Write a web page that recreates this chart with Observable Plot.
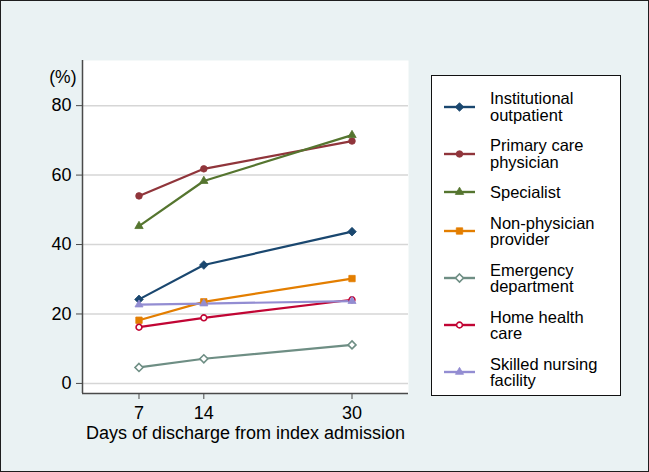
<!DOCTYPE html>
<html>
<head>
<meta charset="utf-8">
<script src="https://cdn.jsdelivr.net/npm/d3@7"></script>
<script src="https://cdn.jsdelivr.net/npm/@observablehq/plot@0.6"></script>
<style>
  html, body { margin: 0; padding: 0; background: #eaf2f3; }
  #wrap { position: relative; width: 649px; height: 472px; background: #eaf2f3; overflow: hidden;
          font-family: "Liberation Sans", Arial, Helvetica, sans-serif; }
  #border { position: absolute; left: 0; top: 0; width: 649px; height: 472px; box-sizing: border-box;
            border: 1.5px solid #1e1e1e; pointer-events: none; }
  #chart { position: absolute; left: 0; top: 0; }
  #legend { position: absolute; left: 431px; top: 75px; width: 190px; height: 321px; box-sizing: border-box;
            background: #fff; border: 1.5px solid #111; padding-top: 14px;
            display: flex; flex-direction: column; gap: 14px; }
  .entry { display: flex; align-items: center; }
  .entry svg { flex: none; margin-left: 12px; }
  .entry span { margin-left: 15px; font-size: 16.5px; line-height: 16.5px; color: #000; }
</style>
</head>
<body>
<div id="wrap">
  <div id="chart"></div>
  <div id="legend"></div>
  <div id="border"></div>
</div>
<script>
// ---- data ----
const days = [7, 14, 30];
const seriesNames = [
  "Institutional outpatient",
  "Primary care physician",
  "Specialist",
  "Non-physician provider",
  "Emergency department",
  "Home health care",
  "Skilled nursing facility"
];
const legendLines = [
  ["Institutional", "outpatient"],
  ["Primary care", "physician"],
  ["Specialist"],
  ["Non-physician", "provider"],
  ["Emergency", "department"],
  ["Home health", "care"],
  ["Skilled nursing", "facility"]
];
const institutional = [24.2, 34.1, 43.7];
const primaryCare   = [54.0, 61.8, 69.8];
const specialist    = [45.3, 58.3, 71.5];
const nonPhysician  = [18.2, 23.5, 30.2];
const emergency     = [4.6, 7.1, 11.1];
const homeHealth    = [16.2, 18.9, 24.1];
const skilledNursing= [22.7, 23.0, 23.7];
const yTicks = [0, 20, 40, 60, 80];
const xTicks = [7, 14, 30];

// ---- styles ----
const colors  = ["#1a476f", "#90353b", "#55752f", "#e37e00", "#6e8e84", "#c10534", "#938dd2"];
const symbols = ["diamond2", "circle", "triangle", "square", "diamond2", "circle", "triangle"];
const hollow  = [false, false, false, false, true, true, false];
const radius  = [3.9, 3.3, 3.1, 3.6, 3.6, 2.9, 3.0];

const allValues = [institutional, primaryCare, specialist, nonPhysician, emergency, homeHealth, skilledNursing];
const rows = [];
seriesNames.forEach((s, i) => days.forEach((d, j) => rows.push({series: s, idx: i, day: d, value: allValues[i][j]})));

const marks = [
  Plot.frame({fill: "white", stroke: null}),
  Plot.ruleY(yTicks, {stroke: "#d6d6d6", strokeWidth: 1.5}),
];
seriesNames.forEach((s, i) => {
  const data = rows.filter(r => r.idx === i);
  marks.push(Plot.line(data, {x: "day", y: "value", stroke: colors[i], strokeWidth: 2.2}));
});
seriesNames.forEach((s, i) => {
  const data = rows.filter(r => r.idx === i);
  marks.push(Plot.dot(data, {
    x: "day", y: "value", symbol: () => symbols[i], r: radius[i],
    fill: hollow[i] ? "white" : colors[i], stroke: colors[i], strokeWidth: hollow[i] ? 1.6 : 0.8
  }));
});
marks.push(
  Plot.ruleX([0.9], {stroke: "#4a4a4a", strokeWidth: 1.5}),
  Plot.ruleY([-2.9], {stroke: "#4a4a4a", strokeWidth: 1.5}),
  Plot.axisY({ticks: yTicks, tickSize: 6, tickPadding: 5, fontSize: 18, label: null, stroke: "#4a4a4a"}),
  Plot.axisX({ticks: xTicks, tickSize: 6, tickPadding: 7, fontSize: 18, label: null, stroke: "#4a4a4a"}),
  Plot.text(["(%)"], {frameAnchor: "top-left", dx: -6, dy: 10, textAnchor: "end", fontSize: 17.5, fill: "#000"}),
  Plot.text(["Days of discharge from index admission"], {frameAnchor: "bottom", dy: 45, fontSize: 18, fill: "#000"})
);

const chart = Plot.plot({
  width: 649, height: 472,
  marginLeft: 82, marginRight: 241, marginTop: 60, marginBottom: 79,
  style: {background: "transparent", fontFamily: "'Liberation Sans', Arial, sans-serif", color: "#000"},
  x: {type: "linear", domain: [0.9, 36.1]},
  y: {domain: [-2.9, 93]},
  symbol: {type: "identity"},
  marks
});
document.getElementById("chart").appendChild(chart);

// ---- legend ----
const legend = d3.select("#legend");
seriesNames.forEach((s, i) => {
  const e = legend.append("div").attr("class", "entry");
  const svg = e.append("svg").attr("width", 31).attr("height", 14);
  svg.append("line").attr("x1", 0).attr("x2", 31).attr("y1", 7).attr("y2", 7)
     .attr("stroke", colors[i]).attr("stroke-width", 2.4);
  const sym = {diamond2: d3.symbolDiamond2, circle: d3.symbolCircle, triangle: d3.symbolTriangle, square: d3.symbolSquare}[symbols[i]];
  svg.append("path").attr("transform", "translate(15.5,7)")
     .attr("d", d3.symbol(sym, Math.PI * radius[i] * radius[i])())
     .attr("fill", hollow[i] ? "white" : colors[i]).attr("stroke", colors[i])
     .attr("stroke-width", hollow[i] ? 1.6 : 0.8);
  e.append("span").html(legendLines[i].join("<br>"));
});
</script>
</body>
</html>
